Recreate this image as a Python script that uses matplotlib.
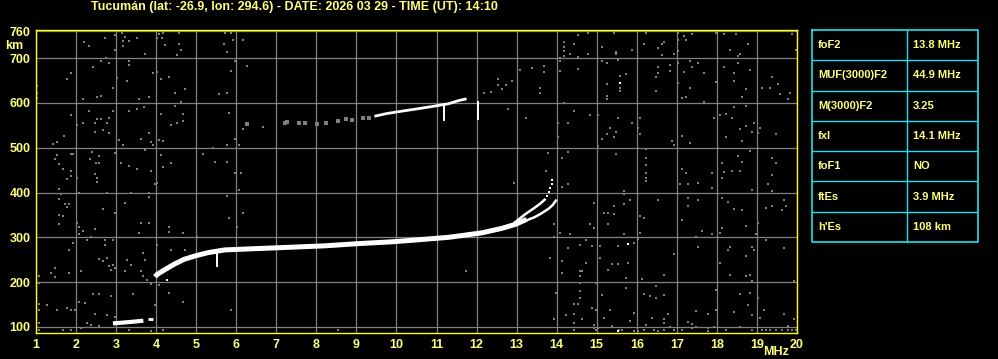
import matplotlib
matplotlib.use("Agg")
import matplotlib.pyplot as plt
import numpy as np

# ionogram header / axis data
title = "Tucumán (lat: -26.9, lon: 294.6) - DATE: 2026 03 29 - TIME (UT): 14:10"
freq_ticks = list(range(1, 21))
height_ticks = [100, 200, 300, 400, 500, 600, 700, 760]

# scaled parameters (right hand table)
param_names = ["foF2", "MUF(3000)F2", "M(3000)F2", "fxI", "foF1", "ftEs", "h'Es"]
param_values = ["13.8 MHz", "44.9 MHz", "3.25", "14.1 MHz", "NO", "3.9 MHz", "108 km"]

# F-layer trace (MHz, km)
f_main_mhz = [3.97, 4.02, 4.2, 4.45, 4.7, 4.95, 5.3, 5.72, 6.55, 7.38, 8.2, 9.05, 9.88,
              10.47, 11.3, 12.13, 12.63, 12.97, 13.25]
f_main_km = [212, 217, 227, 240, 251, 258, 266, 272, 275, 278, 281, 286, 290,
             294, 300, 310, 320, 329, 340]
o_branch_mhz = [12.95, 13.22, 13.45, 13.6, 13.7]
o_branch_km = [333, 352, 366, 376, 384]
x_branch_mhz = [13.25, 13.45, 13.63, 13.8, 13.9, 13.98]
x_branch_km = [338, 345, 354, 364, 372, 382]
o_tail_mhz = [13.75, 13.8, 13.84, 13.88, 13.88]
o_tail_km = [392, 402, 410, 420, 428]

# sporadic E trace
es_mhz = [2.92, 3.2, 3.45, 3.68]
es_km = [108, 110, 112, 114]
es_end_mhz = [3.8, 3.92]
es_end_km = [117, 117]

# second hop F trace
f2_mhz = [9.45, 9.75, 10.1, 10.47, 10.97, 11.3, 11.55, 11.75]
f2_km = [570, 576, 581, 586, 593, 598, 605, 609]
f2_gray_mhz = [6.28, 7.22, 7.27, 7.57, 7.72, 8.02, 8.23, 8.53, 8.73, 8.88, 9.17, 9.32]
f2_gray_km = [552, 555, 557, 556, 556, 552, 556, 559, 563, 561, 566, 566]

# vertical spikes (MHz, km from, km to)
spikes = [(5.52, 237, 270), (11.19, 562, 597), (12.03, 564, 601)]

# scattered noise echoes (MHz, km)
noise_1_6 = [
    (2.98, 752), (3.15, 756), (3.23, 748), (3.32, 739), (3.18, 739), (3.53, 745), (2.73, 745),
    (2.20, 735), (2.33, 727), (2.98, 719), (3.17, 727), (3.73, 709), (4.18, 756), (4.08, 754),
    (4.15, 745), (4.03, 745), (4.58, 756), (4.57, 731), (4.62, 718), (4.53, 707), (4.23, 728),
    (5.70, 731), (2.75, 699), (2.63, 693), (2.43, 679), (2.83, 690), (3.33, 694), (3.33, 685),
    (1.88, 666), (1.78, 653), (3.03, 655), (3.28, 648), (2.93, 633), (4.03, 668), (3.93, 666),
    (4.13, 653), (4.33, 657), (4.48, 623), (4.73, 631), (2.63, 616), (2.53, 612), (2.18, 608),
    (3.58, 608), (3.83, 612), (1.03, 638), (1.03, 623), (1.03, 611), (5.58, 620), (1.88, 573),
    (2.33, 581), (2.53, 564), (2.63, 564), (2.83, 566), (2.93, 581), (3.33, 581), (3.53, 586),
    (3.70, 591), (4.13, 576), (4.48, 593), (4.63, 601), (4.68, 575), (4.68, 560), (4.38, 550),
    (4.52, 554), (2.03, 550), (2.18, 554), (2.48, 554), (2.78, 554), (2.48, 536), (2.68, 539),
    (2.83, 532), (3.08, 518), (3.18, 505), (3.63, 519), (3.83, 532), (3.88, 512), (3.93, 506),
    (4.08, 518), (4.18, 514), (1.70, 526), (1.53, 512), (1.43, 509), (1.93, 485), (1.88, 487),
    (1.53, 484), (1.58, 463), (1.48, 474), (1.68, 452), (1.78, 430), (1.88, 437), (1.88, 447),
    (2.03, 433), (2.35, 474), (2.40, 491), (2.50, 465), (2.58, 465), (2.58, 482), (2.47, 442),
    (2.53, 433), (2.53, 424), (2.98, 489), (3.13, 465), (3.33, 459), (3.53, 452), (3.73, 494),
    (3.88, 447), (4.13, 484), (4.18, 456), (4.38, 465), (5.18, 487), (5.48, 469), (5.43, 500),
    (1.58, 408), (1.63, 396), (1.58, 386), (1.73, 374), (1.83, 374), (1.78, 368), (1.58, 350),
    (1.68, 348), (1.58, 329), (2.08, 400), (2.78, 400), (3.38, 400), (2.68, 364), (2.98, 355),
    (3.23, 377), (3.83, 400), (3.83, 390), (3.98, 418), (4.03, 422), (2.03, 333), (2.08, 322),
    (2.18, 314), (2.08, 307), (2.48, 319), (3.63, 333), (3.83, 333), (3.58, 310), (4.33, 323),
    (4.33, 313), (4.68, 310), (5.03, 301), (2.28, 295), (2.38, 301), (2.73, 293), (2.93, 293),
    (2.73, 284), (1.83, 271), (1.93, 288), (2.58, 251), (2.78, 254), (2.68, 247), (2.83, 236),
    (2.93, 238), (2.98, 231), (2.88, 227), (3.28, 249), (3.38, 238), (3.68, 266), (3.73, 249),
    (3.23, 225), (3.63, 225), (3.68, 214), (3.78, 204), (3.88, 195), (4.03, 284), (4.38, 271),
    (4.73, 271), (1.48, 231), (1.38, 221), (1.48, 212), (1.83, 221), (2.13, 225), (1.08, 213),
    (1.08, 199), (1.08, 152), (1.08, 139), (1.28, 150), (1.53, 139), (1.78, 143), (1.88, 137),
    (1.98, 139), (2.08, 156), (2.23, 154), (2.43, 173), (2.58, 174), (2.88, 169), (3.43, 173),
    (4.33, 176), (4.68, 156), (3.98, 150), (4.08, 193), (2.48, 129), (2.78, 126), (2.98, 122),
    (2.28, 109), (2.38, 104), (2.58, 103), (1.88, 94), (1.68, 94), (1.08, 108), (1.08, 94),
    (3.33, 94), (3.88, 90), (4.18, 94), (2.13, 98),
    (5.73, 756), (5.88, 756), (5.93, 740), (6.18, 740), (5.78, 713), (5.98, 694), (6.28, 683),
    (5.88, 672), (5.78, 622), (5.83, 577), (6.18, 541), (6.68, 547), (5.98, 519), (5.78, 506),
    (6.08, 506), (5.78, 469), (5.98, 443), (6.13, 443), (6.08, 405), (5.78, 392), (6.18, 355),
    (5.83, 344), (6.03, 324), (5.88, 139), (8.53, 94),
]
noise_11_15 = [
    (14.52, 752), (14.77, 756), (14.18, 735), (14.18, 725), (14.18, 715), (14.18, 705),
    (14.08, 701), (14.08, 693), (14.33, 709), (14.53, 703), (14.43, 731), (14.78, 709),
    (15.13, 725), (15.13, 693), (14.53, 675), (14.08, 672), (13.08, 673), (13.38, 678),
    (13.68, 683), (13.68, 668), (12.53, 653), (12.73, 640), (12.88, 648), (12.63, 630),
    (12.53, 640), (13.58, 634), (13.58, 622), (12.18, 623), (12.35, 625), (14.18, 599),
    (14.43, 581), (14.83, 572), (15.03, 572), (12.78, 586), (13.23, 567), (14.03, 554),
    (14.28, 554), (14.03, 523), (15.13, 519), (15.03, 504), (13.78, 489), (14.13, 478),
    (14.28, 491), (13.73, 447), (12.93, 422), (14.13, 412), (14.28, 418), (14.93, 377),
    (15.18, 355), (14.83, 329), (14.93, 320), (13.93, 329), (14.08, 310), (13.93, 301),
    (14.33, 307), (14.73, 293), (14.58, 284), (14.88, 281), (15.08, 281), (14.28, 276),
    (14.13, 247), (13.83, 253), (15.08, 253), (11.73, 226), (14.73, 243), (14.63, 226),
    (14.58, 226), (14.58, 213), (14.58, 198), (14.13, 221), (14.98, 198), (14.58, 180),
    (13.98, 176), (14.58, 165), (14.53, 152), (14.43, 152), (15.13, 172), (14.98, 139),
    (13.93, 117), (14.23, 126), (14.43, 129), (14.43, 108), (14.63, 117), (14.88, 143),
    (14.43, 94), (14.93, 105), (15.03, 98), (15.18, 120), (14.93, 98), (14.98, 94),
]
noise_15_20 = [
    (15.43, 756), (16.23, 756), (17.03, 756), (17.98, 756), (17.38, 754), (17.18, 749),
    (17.23, 740), (17.03, 740), (16.68, 736), (16.63, 731), (16.53, 722), (16.18, 731),
    (15.88, 718), (15.48, 713), (15.48, 710), (16.63, 707), (17.03, 715), (16.93, 709),
    (18.18, 754), (18.48, 754), (18.78, 731), (18.33, 718), (18.58, 709), (18.53, 704),
    (19.88, 754), (19.98, 718),
    (15.25, 689), (15.53, 695), (15.58, 660), (15.58, 634), (15.58, 627), (15.73, 664),
    (15.25, 642), (15.25, 616), (15.25, 609), (16.48, 657), (16.53, 679), (16.53, 666),
    (16.83, 684), (16.83, 672), (16.48, 627), (17.03, 689), (17.03, 644), (17.18, 668),
    (17.33, 693), (17.38, 679), (17.53, 689), (17.68, 666), (17.33, 634), (17.13, 611),
    (17.23, 612), (17.68, 603), (17.98, 646), (18.18, 679), (18.43, 666), (18.43, 649),
    (18.53, 689), (18.83, 673), (18.73, 631), (18.63, 612), (19.13, 634), (19.33, 634),
    (19.38, 657), (19.53, 642), (19.58, 620), (19.78, 608), (19.83, 621),
    (15.53, 567), (15.33, 544), (15.43, 523), (15.48, 536), (15.25, 530), (15.88, 556),
    (16.08, 567), (16.03, 544), (16.08, 530), (16.88, 515), (16.93, 506), (17.13, 527),
    (17.33, 511), (17.93, 566), (18.08, 572), (18.23, 576), (18.38, 566), (18.43, 590),
    (18.73, 593), (18.58, 541), (18.73, 549), (18.88, 536), (18.93, 556), (19.03, 533),
    (19.08, 544), (18.63, 515), (18.23, 523), (19.48, 530),
    (15.48, 487), (16.23, 496), (16.23, 478), (16.23, 462), (16.23, 443), (16.23, 432),
    (16.23, 426), (17.13, 452), (17.23, 443), (17.28, 418), (17.08, 420), (17.53, 422),
    (17.88, 443), (17.88, 409), (18.13, 465), (18.18, 445), (18.13, 433), (18.38, 447),
    (18.58, 447), (18.53, 482), (18.63, 467), (18.83, 492), (18.88, 405), (19.38, 478),
    (19.48, 465), (19.38, 438), (19.28, 418), (19.38, 403),
    (15.68, 403), (15.68, 396), (15.83, 383), (15.68, 374), (15.43, 369), (15.28, 355),
    (15.43, 352), (15.28, 329), (15.68, 307), (16.08, 348), (16.18, 343), (16.08, 310),
    (16.53, 383), (17.13, 338), (17.28, 387), (17.28, 370), (17.53, 383), (17.63, 315),
    (17.48, 301), (17.88, 307), (18.13, 387), (18.28, 378), (18.43, 363), (18.63, 360),
    (18.13, 320), (18.08, 310), (18.73, 325), (19.03, 333), (19.23, 366), (19.38, 369),
    (19.63, 360), (19.73, 369), (19.68, 383), (18.98, 307),
    (16.03, 296), (15.93, 288), (15.53, 281), (15.38, 241), (15.53, 240), (15.28, 228),
    (15.78, 243), (15.73, 209), (16.93, 262), (16.68, 217), (16.13, 208), (17.53, 279),
    (18.08, 243), (18.33, 279), (18.28, 271), (18.33, 217), (18.73, 258), (18.88, 278),
    (18.93, 271), (18.83, 217), (18.73, 213), (18.88, 202), (19.23, 293), (19.68, 276),
    (19.93, 202),
    (15.73, 186), (16.18, 173), (16.33, 169), (16.48, 164), (16.68, 171), (16.48, 191),
    (15.33, 139), (15.93, 131), (15.83, 113), (15.38, 103), (16.23, 105), (16.38, 120),
    (16.68, 118), (16.78, 129), (16.68, 109), (17.48, 135), (17.28, 111), (17.38, 107),
    (17.78, 129), (17.98, 182), (17.98, 139), (18.43, 133), (18.58, 173), (18.83, 176),
    (18.78, 150), (18.88, 126), (19.03, 164), (19.18, 139), (19.08, 120), (19.68, 129),
    (19.78, 103), (19.93, 117),
    (15.55, 93), (15.63, 93), (15.93, 92), (16.03, 92), (16.18, 94), (16.43, 94), (16.53, 92),
    (16.68, 94), (16.83, 100), (16.93, 94), (17.13, 94), (17.38, 97), (17.48, 100),
    (17.78, 92), (17.78, 98), (17.93, 101), (18.23, 94), (18.58, 100), (18.88, 94),
    (19.13, 94), (19.23, 94), (19.33, 94), (19.48, 94), (19.63, 94), (19.78, 94),
    (19.88, 94), (19.98, 94),
]
white_dots = [(15.58, 645), (15.78, 285), (15.53, 91), (4.28, 205)]

YELLOW = "#ffff80"
FRAME = "#ffff00"
GRAY = "#808080"
CYAN = "#20e0f0"
FONT = ["Liberation Sans", "DejaVu Sans"]

W, H = 998, 359
fig = plt.figure(figsize=(W / 100, H / 100), dpi=100, facecolor="black")

ax = fig.add_axes([36 / W, 1 - 333 / H, (797 - 36) / W, (333 - 30) / H], facecolor="black")
ax.set_xlim(1, 20)
ax.set_ylim(86.6, 762.5)
ax.set_xticks(freq_ticks)
ax.set_yticks(height_ticks)
ax.set_xticklabels([str(v) for v in freq_ticks])
ax.set_yticklabels([str(v) for v in height_ticks])
ax.tick_params(length=0, colors=YELLOW, labelsize=9, pad=4)
for lab in ax.get_xticklabels() + ax.get_yticklabels():
    lab.set_fontweight("bold")
    lab.set_family(FONT)
ax.grid(True, color=GRAY, lw=0.9)
ax.set_axisbelow(True)
for sp in ax.spines.values():
    sp.set_color(FRAME)
    sp.set_linewidth(1.0)

# noise
for group in (noise_1_6, noise_11_15, noise_15_20):
    arr = np.array(group)
    ax.scatter(arr[:, 0], arr[:, 1], marker="s", s=3.6, c=GRAY, linewidths=0, zorder=2)
arr = np.array(white_dots)
ax.scatter(arr[:, 0], arr[:, 1], marker="s", s=4, c="white", linewidths=0, zorder=3)
ax.scatter(f2_gray_mhz, f2_gray_km, marker="s", s=6, c=GRAY, linewidths=0, zorder=2)

# traces
ax.plot(f_main_mhz, f_main_km, color="white", lw=3.6, solid_capstyle="butt", zorder=4)
ax.plot(o_branch_mhz, o_branch_km, color="white", lw=1.8, zorder=4)
ax.plot(x_branch_mhz, x_branch_km, color="white", lw=1.8, zorder=4)
ax.scatter(o_tail_mhz, o_tail_km, marker="s", s=4, c="white", linewidths=0, zorder=4)
ax.plot(es_mhz, es_km, color="white", lw=3.0, solid_capstyle="butt", zorder=4)
ax.plot(es_end_mhz, es_end_km, color="white", lw=2.0, solid_capstyle="butt", zorder=4)
ax.plot(f2_mhz, f2_km, color="white", lw=2.0, solid_capstyle="butt", zorder=4)
for f, h0, h1 in spikes:
    ax.plot([f, f], [h0, h1], color="white", lw=1.4, zorder=4)

ax.text(19.47, -0.064, "MHz", transform=ax.get_xaxis_transform(), color=YELLOW,
        fontsize=9, fontweight="bold", family=FONT, ha="center", va="center")
fig.text(14 / W, 1 - 46 / H, "km", color=YELLOW, fontsize=9, fontweight="bold",
         family=FONT, ha="center", va="center")
fig.text(91 / W, 1 - 7 / H, title, color=YELLOW, fontsize=9, fontweight="bold",
         family=FONT, ha="left", va="center")

# parameter table
tx0, tx1, ty0, ty1 = 812, 978, 30, 242
tab = fig.add_axes([tx0 / W, 1 - ty1 / H, (tx1 - tx0) / W, (ty1 - ty0) / H])
tab.set_xlim(0, tx1 - tx0)
tab.set_ylim(len(param_names), 0)
tab.axis("off")
ncol = 907 - tx0
tab.plot([0, tx1 - tx0, tx1 - tx0, 0, 0], [0, 0, 7, 7, 0], color=CYAN, lw=1.2, clip_on=False)
tab.plot([ncol, ncol], [0, 7], color=CYAN, lw=1.0, clip_on=False)
for i, (name, val) in enumerate(zip(param_names, param_values)):
    if i > 0:
        tab.plot([0, tx1 - tx0], [i, i], color=CYAN, lw=1.0)
    tab.text(6, i + 0.5, name, color=YELLOW, fontsize=8, fontweight="bold", family=FONT,
             ha="left", va="center")
    tab.text(ncol + 6, i + 0.5, val, color=YELLOW, fontsize=8, fontweight="bold",
             family=FONT, ha="left", va="center")

fig.savefig("out.png", dpi=100, facecolor="black")
